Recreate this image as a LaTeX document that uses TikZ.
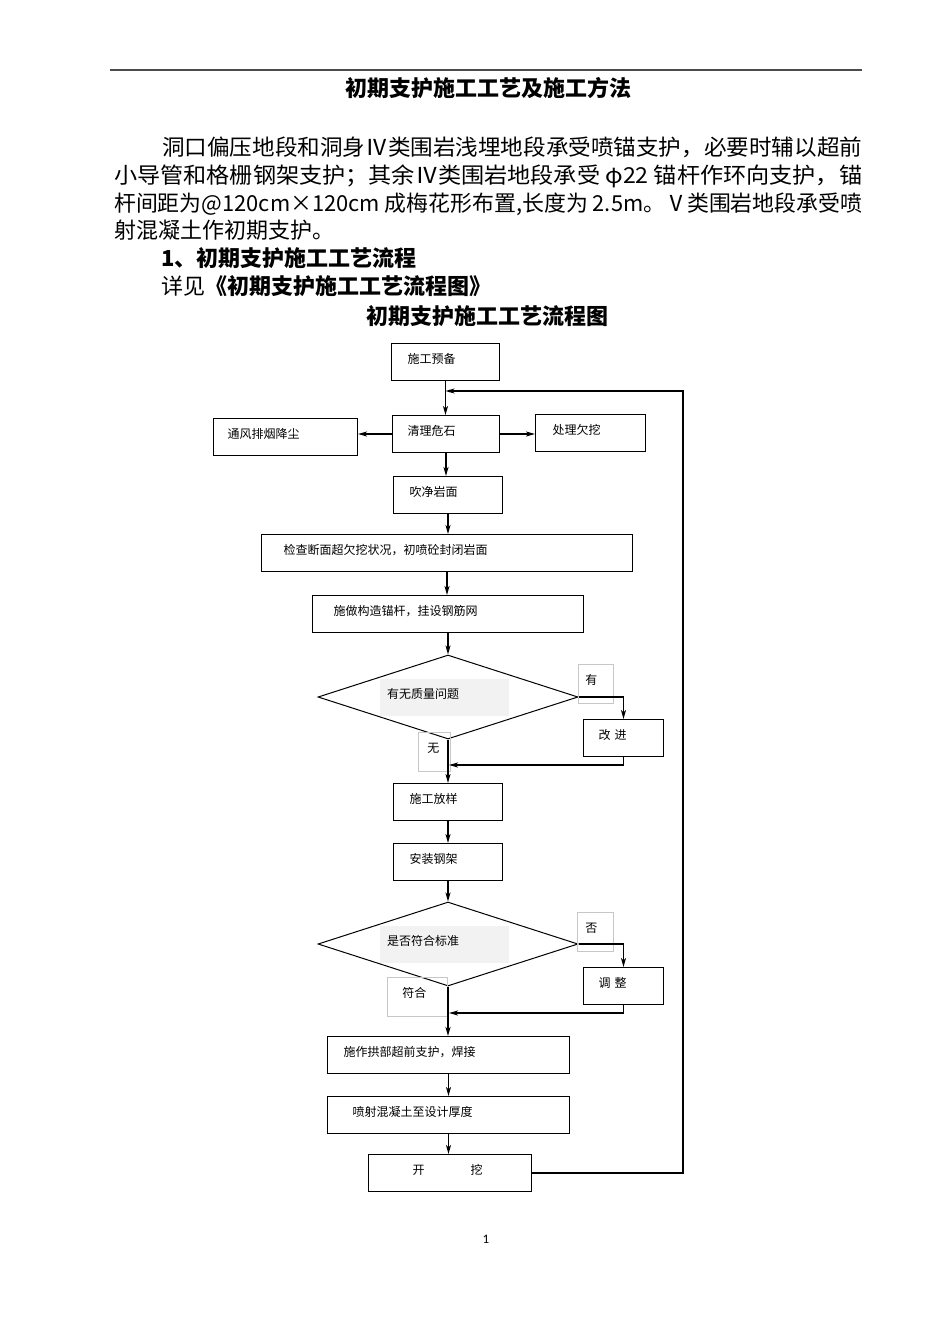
\documentclass[tikz,border=0pt]{standalone}
\usepackage{fontspec}
\usepackage{graphicx}
\setmainfont{Noto Sans CJK SC}
\newfontfamily\pagenumfont{Carlito}
\usetikzlibrary{arrows.meta,shapes.geometric,positioning}

\newcommand{\bodysize}{\fontsize{22}{28}\selectfont}
\newcommand{\boxsize}{\fontsize{12}{14}\selectfont}

\tikzset{
  procbox/.style={draw, line width=1pt, anchor=north west, minimum height=37pt,
    inner xsep=16pt, text height=10pt, text depth=8pt, align=left, font=\boxsize},
  decision/.style={draw, diamond, line width=1pt, minimum width=260pt,
    minimum height=84pt, inner sep=0pt, shape aspect=3.1},
  qlabel/.style={fill=black!5, anchor=north west, minimum height=37pt,
    inner xsep=7pt, text width=115pt, text height=10pt, text depth=8pt,
    align=left, font=\boxsize},
  tagbox/.style={draw=black!22, line width=0.7pt, anchor=north west,
    minimum height=39pt, inner xsep=7pt, text height=10pt, text depth=8pt,
    align=left, font=\boxsize},
  flow/.style={line width=1.3pt, -{Stealth[length=9pt,width=5pt,inset=2.5pt]}},
  bodyline/.style={anchor=base west, inner sep=0pt, font=\bodysize},
}

\begin{document}
\begin{tikzpicture}[x=1pt, y=-1pt]
  \useasboundingbox (0,0) rectangle (950,1344);

  % page head
  \draw[line width=2pt, black!70] (110,70) -- (862,70);
  \node[anchor=base, inner sep=0pt, font=\bodysize\bfseries] (title) at (488,96) {初期支护施工工艺及施工方法};

  \node[bodyline] (para1) at (162,155) {\resizebox{700pt}{\height}{洞口偏压地段和洞身Ⅳ类围岩浅埋地段承受喷锚支护，必要时辅以超前}};
  \node[bodyline] (para2) at (114,183) {\resizebox{748pt}{\height}{小导管和格栅钢架支护；其余Ⅳ类围岩地段承受 φ22 锚杆作环向支护，锚}};
  \node[bodyline] (para3) at (114,211) {\resizebox{748pt}{\height}{杆间距为@120cm×120cm 成梅花形布置,长度为 2.5m。Ⅴ类围岩地段承受喷}};
  \node[bodyline] (para4) at (114,238) {射混凝土作初期支护。};
  \node[bodyline, font=\bodysize\bfseries] (sec) at (161,266) {1、初期支护施工工艺流程};
  \node[bodyline] (ref) at (161,294) {详见{\bfseries《初期支护施工工艺流程图》}};
  \node[anchor=base, inner sep=0pt, font=\bodysize\bfseries] (charttitle) at (487,324) {初期支护施工工艺流程图};

  % process boxes
  \node[procbox, text width=76pt] (prep) at (391,343) {施工预备};
  \node[procbox, inner xsep=15pt, text width=77pt] (clean) at (392,415) {清理危石};
  \node[procbox, inner xsep=14pt, text width=116pt] (vent) at (213,418) {通风排烟降尘};
  \node[procbox, inner xsep=17pt, text width=76pt] (under) at (535,414) {处理欠挖};
  \node[procbox, text width=77pt] (blow) at (393,476) {吹净岩面};
  \node[procbox, inner xsep=22pt, text width=327pt] (check) at (261,534) {检查断面超欠挖状况，初喷砼封闭岩面};
  \node[procbox, inner xsep=21pt, text width=229pt] (bolt) at (312,595) {施做构造锚杆，挂设钢筋网};

  % first check
  \node[decision] (q1) at (448,697) {};
  \node[qlabel] (q1txt) at (380,679) {有无质量问题};
  \node[tagbox, text width=21pt] (yes) at (578,664) {有};
  \node[tagbox, inner xsep=9pt, text width=14pt] (none) at (418,732) {无};
  \node[procbox, inner xsep=15pt, text width=50pt] (improve) at (583,719) {改 进};

  \node[procbox, text width=77pt] (layout) at (393,783) {施工放样};
  \node[procbox, text width=77pt] (frame) at (393,843) {安装钢架};

  % second check
  \node[decision] (q2) at (448,944) {};
  \node[qlabel] (q2txt) at (380,926) {是否符合标准};
  \node[tagbox, inner xsep=8pt, text width=20pt] (no) at (577,912) {否};
  \node[tagbox, inner xsep=15pt, text width=30pt] (pass) at (387,977) {符合};
  \node[procbox, inner xsep=15pt, text width=50pt] (adjust) at (583,967) {调 整};

  \node[procbox, text width=210pt] (arch) at (327,1036) {施作拱部超前支护，焊接};
  \node[procbox, inner xsep=25pt, text width=192pt] (spray) at (327,1096) {喷射混凝土至设计厚度};
  \node[procbox, inner xsep=44pt, text width=75pt] (dig) at (368,1154) {开\hspace{46pt}挖};

  \coordinate (rtop) at (683,391);
  \coordinate (rbot) at (683,1173);
  \coordinate (j1) at (449,765);
  \coordinate (j2) at (449,1013);

  % connectors
  \draw[flow] (prep.south) -- (prep.south |- clean.north);
  \draw[flow, line width=1.1pt] (dig.east) -- (rbot) -- (rtop) -- (prep.south |- rtop);
  \draw[flow] (clean.west) -- (clean.west -| vent.east);
  \draw[flow] (clean.east) -- (clean.east -| under.west);
  \draw[flow] (clean.south) -- (clean.south |- blow.north);
  \draw[flow] (blow.south) -- (blow.south |- check.north);
  \draw[flow] (check.south) -- (check.south |- bolt.north);
  \draw[flow] (bolt.south) -- (bolt.south |- q1.north);
  \draw[flow] (q1.east) -| (improve.north);
  \draw[flow] (improve.south) |- (j1);
  \draw[flow] (q1.south) -- (q1.south |- layout.north);
  \draw[flow] (layout.south) -- (layout.south |- frame.north);
  \draw[flow] (frame.south) -- (frame.south |- q2.north);
  \draw[flow] (q2.east) -| (adjust.north);
  \draw[flow] (adjust.south) |- (j2);
  \draw[flow] (q2.south) -- (q2.south |- arch.north);
  \draw[flow] (arch.south) -- (arch.south |- spray.north);
  \draw[flow] (spray.south) -- (spray.south |- dig.north);

  \node[font=\pagenumfont\fontsize{13}{15}\selectfont] (pagenum) at (486,1239) {1};
\end{tikzpicture}
\end{document}
